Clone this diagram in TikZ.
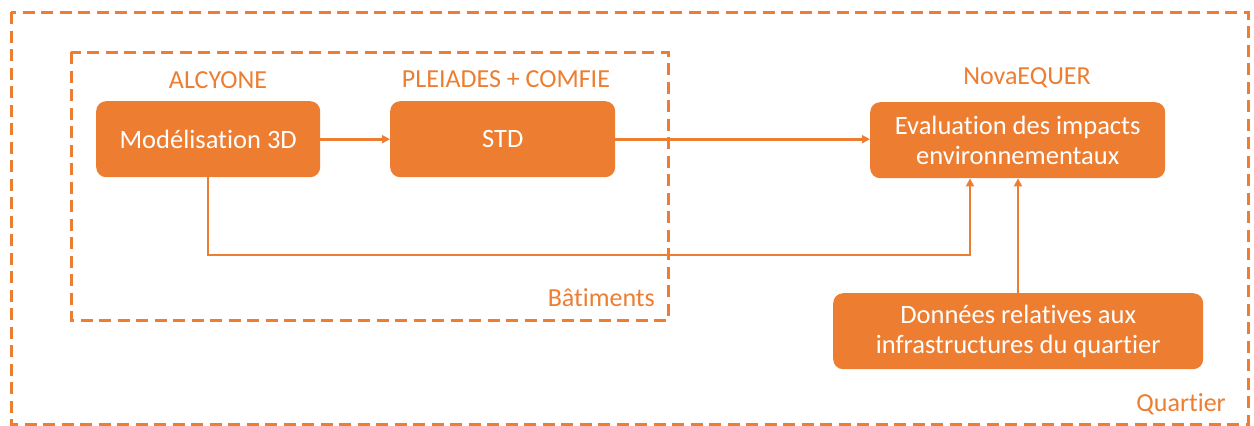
\documentclass[tikz,border=0pt]{standalone}
\usepackage{fontspec}
\setmainfont[Ligatures=NoCommon]{Carlito}
\usetikzlibrary{arrows.meta}
\definecolor{org}{HTML}{ED7D31}
\begin{document}
\begin{tikzpicture}[x=1pt,y=-1pt,
  frame/.style={draw=org,line width=3pt,dash pattern=on 12pt off 6.5pt},
  box/.style={fill=org,rounded corners=10pt,text=white,font=\fontsize{26.5}{30}\selectfont,align=center,anchor=north west,inner sep=0pt},
  lbl/.style={text=org,font=\fontsize{26}{30}\selectfont,inner sep=0pt},
  conn/.style={draw=org,line width=2.8pt,-{Triangle[length=8pt,width=8pt]}}]
\useasboundingbox (0,0) rectangle (1254,426);
\draw[frame] (11,12) rectangle (1248,424);
\draw[frame] (71,52) rectangle (668,320);
\node[box,minimum width=224pt,minimum height=76pt] (mod) at (96,101) {Modélisation 3D};
\node[box,minimum width=225pt,minimum height=76pt] (std) at (390,101) {STD};
\node[box,minimum width=295pt,minimum height=76pt] (eva) at (870,102) {Evaluation des impacts\\environnementaux};
\node[box,minimum width=370pt,minimum height=76pt] (don) at (833,293) {Données relatives aux\\infrastructures du quartier};
\node[lbl] (alc) at (218,80) {ALCYONE};
\node[lbl] (ple) at (506,79) {PLEIADES + COMFIE};
\node[lbl] (nova) at (1027,78) {NovaEQUER};
\node[lbl,anchor=east] (bat) at (655,298) {Bâtiments};
\node[lbl,anchor=east] (qua) at (1226,404) {Quartier};
\draw[conn] (mod.east) -- (mod.east -| std.west);
\draw[conn] (std.east) -- (std.east -| eva.west);
\coordinate (c1) at (208,255);
\coordinate (c2) at (970,255);
\draw[conn] (mod.south -| c1) -- (c1) -- (c2) -- (c2 |- eva.south);
\draw[conn] (don.north -| 1018,0) -- (eva.south -| 1018,0);
\end{tikzpicture}
\end{document}
